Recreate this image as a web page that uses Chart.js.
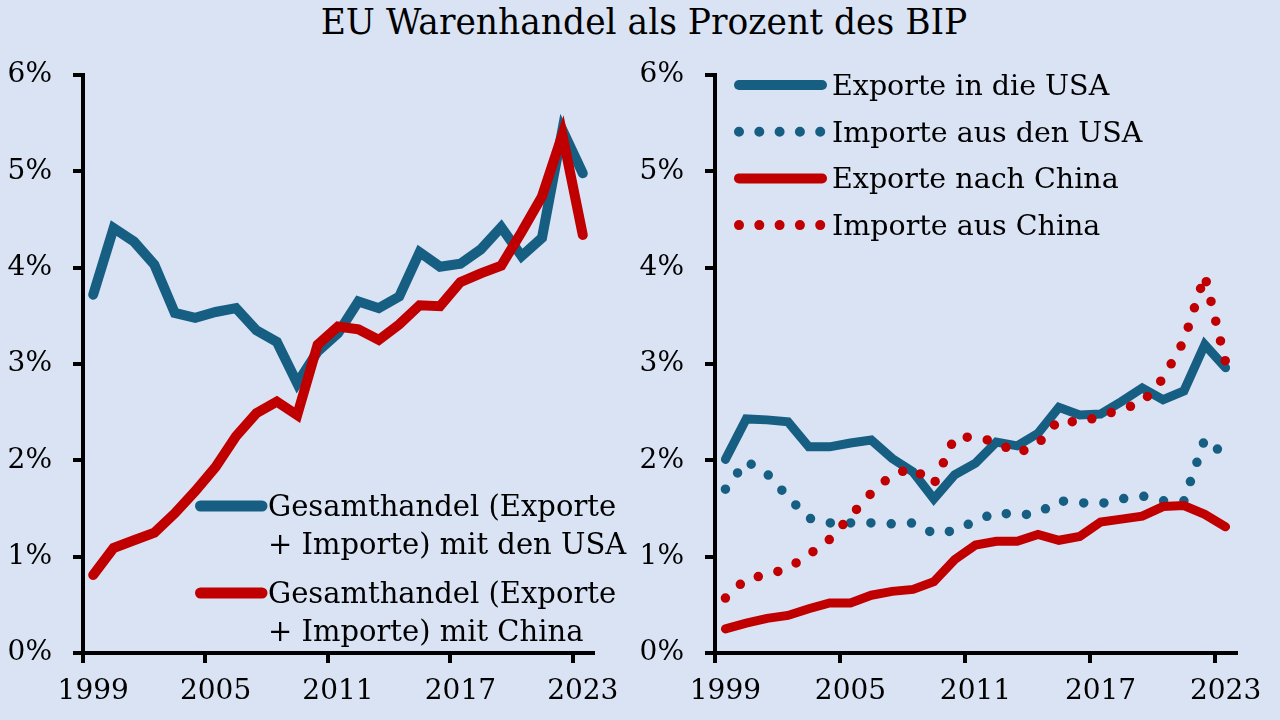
<!DOCTYPE html>
<html>
<head>
<meta charset="utf-8">
<script src="https://cdn.jsdelivr.net/npm/chart.js@4.4.1/dist/chart.umd.min.js"></script>
<style>
  html, body { margin: 0; padding: 0; }
  body { width: 1280px; height: 720px; background: #DAE3F3; position: relative; overflow: hidden; }
  #title { position: absolute; left: 0; top: 5px; width: 1288px; text-align: center;
           font-family: 'DejaVu Serif', serif; font-size: 34.5px; line-height: 1; color: #000; white-space: nowrap; }
  canvas { position: absolute; top: 0; }
  #left { left: 0; }
  #right { left: 640px; }
</style>
</head>
<body>
<div id="title">EU Warenhandel als Prozent des BIP</div>
<canvas id="left" width="640" height="720"></canvas>
<canvas id="right" width="640" height="720"></canvas>
<script>
// ---- Data ----
const years = ['1999','2000','2001','2002','2003','2004','2005','2006','2007','2008','2009','2010',
               '2011','2012','2013','2014','2015','2016','2017','2018','2019','2020','2021','2022','2023'];
const yTicks = [0, 1, 2, 3, 4, 5, 6];

// Left panel: total trade (exports + imports), % of GDP
const totalUSA   = [3.72, 4.41, 4.27, 4.03, 3.53, 3.48, 3.54, 3.58, 3.35, 3.23, 2.80, 3.13,
                    3.32, 3.65, 3.58, 3.70, 4.16, 4.01, 4.04, 4.19, 4.42, 4.12, 4.31, 5.43, 4.98];
const totalChina = [0.81, 1.09, 1.17, 1.25, 1.45, 1.68, 1.93, 2.25, 2.49, 2.61, 2.47, 3.20,
                    3.39, 3.36, 3.25, 3.41, 3.61, 3.60, 3.85, 3.94, 4.02, 4.37, 4.74, 5.38, 4.34];

// Right panel
const exportsUSA   = [2.01, 2.43, 2.42, 2.40, 2.14, 2.14, 2.18, 2.21, 2.02, 1.88, 1.60, 1.85,
                      1.97, 2.19, 2.15, 2.28, 2.55, 2.47, 2.48, 2.61, 2.75, 2.63, 2.72, 3.20, 2.96];
const importsUSA   = [1.70, 1.99, 1.86, 1.62, 1.40, 1.35, 1.35, 1.35, 1.34, 1.35, 1.24, 1.27,
                      1.37, 1.46, 1.43, 1.45, 1.58, 1.56, 1.55, 1.60, 1.63, 1.58, 1.58, 2.22, 2.05];
const exportsChina = [0.25, 0.31, 0.36, 0.39, 0.46, 0.52, 0.52, 0.60, 0.64, 0.66, 0.74, 0.97,
                      1.12, 1.16, 1.16, 1.23, 1.17, 1.21, 1.36, 1.39, 1.42, 1.52, 1.53, 1.44, 1.31];
const importsChina = [0.57, 0.77, 0.81, 0.88, 1.02, 1.18, 1.42, 1.66, 1.85, 1.92, 1.75, 2.24,
                      2.24, 2.19, 2.07, 2.17, 2.42, 2.39, 2.46, 2.53, 2.60, 2.85, 3.24, 3.92, 3.02];

// Legend texts
const leftLegend = [
  ['Gesamthandel (Exporte', '+ Importe) mit den USA'],
  ['Gesamthandel (Exporte', '+ Importe) mit China']
];
const rightLegend = ['Exporte in die USA', 'Importe aus den USA', 'Exporte nach China', 'Importe aus China'];

// ---- Styling ----
const BLUE = '#175E83';
const RED = '#C00000';
const FONT = "'DejaVu Serif', serif";
const DOT = [0, 20.3];

const legendPlugin = {
  id: 'panelLegend',
  afterDraw(chart, args, opts) {
    const ctx = chart.ctx;
    ctx.save();
    opts.items.forEach(item => {
      const ds = chart.data.datasets[item.ds];
      ctx.beginPath();
      ctx.lineWidth = opts.lineWidth;
      ctx.strokeStyle = ds.borderColor;
      ctx.lineCap = 'round';
      ctx.setLineDash(ds.borderDash || []);
      ctx.moveTo(opts.x0, item.y);
      ctx.lineTo(opts.x1, item.y);
      ctx.stroke();
      ctx.setLineDash([]);
      ctx.fillStyle = '#000';
      ctx.font = opts.font;
      ctx.textBaseline = 'alphabetic';
      ctx.textAlign = 'left';
      item.lines.forEach((t, k) => ctx.fillText(t, opts.textX, item.y + opts.baseOff + k * opts.lineHeight));
    });
    ctx.restore();
  }
};

function makeScales(leftWidth) {
  return {
    x: {
      type: 'category',
      offset: true,
      afterFit(s) { s.height = 67; },
      border: { display: true, color: '#000', width: 4 },
      grid: {
        offset: true,
        drawOnChartArea: false,
        drawTicks: true,
        tickLength: 10,
        tickWidth: 4,
        lineWidth: 4,
        color: 'rgba(0,0,0,0)',
        tickColor: ctx => (typeof ctx.index === 'number' && ctx.index % 6 === 0) ? '#000' : 'rgba(0,0,0,0)'
      },
      ticks: {
        autoSkip: false,
        maxRotation: 0,
        minRotation: 0,
        padding: 12,
        color: '#000',
        font: { family: FONT, size: 28 },
        callback: function(v, i) { return i % 6 === 0 ? this.getLabelForValue(v) : ''; }
      }
    },
    y: {
      type: 'linear',
      min: 0,
      max: 6,
      afterFit(s) { s.width = leftWidth; },
      afterBuildTicks(s) { s.ticks = yTicks.map(v => ({ value: v })); },
      border: { display: true, color: '#000', width: 4 },
      grid: {
        drawOnChartArea: false,
        drawTicks: true,
        tickLength: 10,
        tickWidth: 4,
        lineWidth: 4,
        color: 'rgba(0,0,0,0)',
        tickColor: '#000'
      },
      ticks: {
        padding: 21,
        color: '#000',
        font: { family: FONT, size: 28 },
        callback: v => v + '%'
      }
    }
  };
}

const common = {
  responsive: false,
  animation: false,
  devicePixelRatio: 1,
  plugins: { legend: { display: false }, tooltip: { enabled: false }, title: { display: false } },
  elements: { point: { radius: 0, hoverRadius: 0 }, line: { tension: 0, borderCapStyle: 'round', borderJoinStyle: 'miter' } }
};

new Chart(document.getElementById('left'), {
  type: 'line',
  data: {
    labels: years,
    datasets: [
      { label: leftLegend[0].join(' '), data: totalUSA, borderColor: BLUE, borderWidth: 10, order: 2, fill: false },
      { label: leftLegend[1].join(' '), data: totalChina, borderColor: RED, borderWidth: 10, order: 1, fill: false }
    ]
  },
  options: Object.assign({}, common, {
    layout: { padding: { left: 0, top: 75, right: 47, bottom: 0 } },
    scales: makeScales(83),
    plugins: Object.assign({}, common.plugins, {
      panelLegend: {
        x0: 200.5, x1: 262, textX: 268, lineWidth: 11, baseOff: 9.5, lineHeight: 38,
        font: "29px 'DejaVu Serif', serif",
        items: [ { ds: 0, y: 506, lines: leftLegend[0] }, { ds: 1, y: 593, lines: leftLegend[1] } ]
      }
    })
  }),
  plugins: [legendPlugin]
});

new Chart(document.getElementById('right'), {
  type: 'line',
  data: {
    labels: years,
    datasets: [
      { label: rightLegend[0], data: exportsUSA, borderColor: BLUE, borderWidth: 9, order: 4, fill: false },
      { label: rightLegend[1], data: importsUSA, borderColor: BLUE, borderWidth: 9.5, borderDash: DOT, order: 3, fill: false },
      { label: rightLegend[2], data: exportsChina, borderColor: RED, borderWidth: 9, order: 2, fill: false },
      { label: rightLegend[3], data: importsChina, borderColor: RED, borderWidth: 9.5, borderDash: DOT, order: 1, fill: false }
    ]
  },
  options: Object.assign({}, common, {
    layout: { padding: { left: 0, top: 75, right: 44, bottom: 0 } },
    scales: makeScales(75),
    plugins: Object.assign({}, common.plugins, {
      panelLegend: {
        x0: 99, x1: 182, textX: 192, lineWidth: 10, baseOff: 10, lineHeight: 38,
        font: "28.5px 'DejaVu Serif', serif",
        items: rightLegend.map((t, i) => ({ ds: i, y: 85 + i * 46.7, lines: [t] }))
      }
    })
  }),
  plugins: [legendPlugin]
});
</script>
</body>
</html>
